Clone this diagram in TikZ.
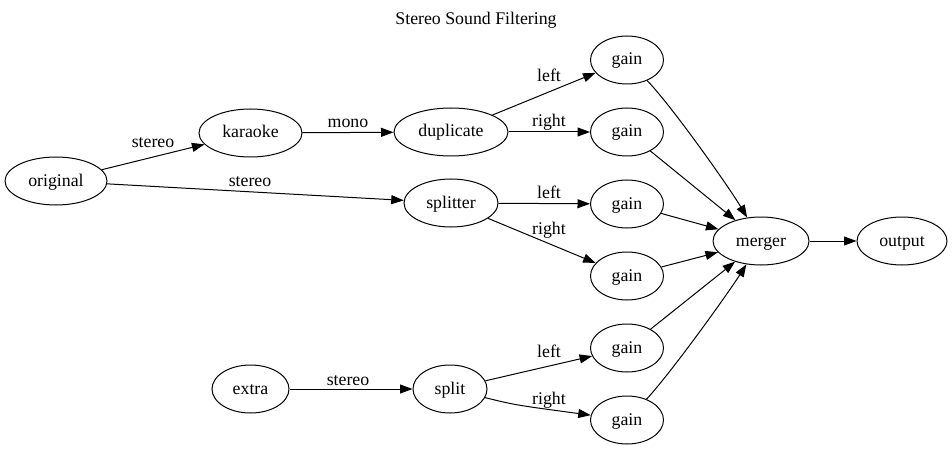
\documentclass[tikz,border=0pt]{standalone}
\usepackage{fontspec}
\setmainfont{Liberation Serif}
\usetikzlibrary{arrows.meta,shapes.geometric}
\tikzset{
	every node/.append style={font=\fontsize{17.8}{20}\selectfont},
	proc/.style = {
			ellipse,
			draw,
			line width = 1pt,
			inner sep = 0pt,
			minimum height = 48pt,
			text height = 13pt,
			text depth = 3pt,
		},
	lbl/.style = {anchor=base, inner sep=0pt},
	flow/.style = {-{Triangle[length=12.5pt,width=9pt]}, line width=1pt},
}

\begin{document}
\begin{tikzpicture}[x=1pt,y=-1pt]
        \useasboundingbox (0,0) rectangle (952,449);
        \node[lbl] at (476,25) (title) {Stereo Sound Filtering};
        \node[proc, minimum width=102pt] at (56,181) (orig) {original};
        \node[proc, minimum width=103pt] at (250.5,133) (kara) {karaoke};
        \node[proc, minimum width=114pt] at (451,132) (dup) {duplicate};
        \node[proc, minimum width=94pt] at (451,203) (splitter) {splitter};
        \node[proc, minimum width=77pt] at (250.5,389) (extra) {extra};
        \node[proc, minimum width=74pt] at (450,389) (split) {split};
        \node[proc, minimum width=73pt] at (627,60) (g1) {gain};
        \node[proc, minimum width=73pt] at (627,132) (g2) {gain};
        \node[proc, minimum width=73pt] at (627,204) (g3) {gain};
        \node[proc, minimum width=73pt] at (627,276) (g4) {gain};
        \node[proc, minimum width=73pt] at (627,348) (g5) {gain};
        \node[proc, minimum width=73pt] at (627,420) (g6) {gain};
        \node[proc, minimum width=96pt] at (761,241) (merger) {merger};
        \node[proc, minimum width=90pt] at (902,241) (out) {output};
        % edge labels
        \node[lbl] at (153,148) (l1) {stereo};
        \node[lbl] at (250,186) (l2) {stereo};
        \node[lbl] at (348,128) (l3) {mono};
        \node[lbl] at (549,82) (l4) {left};
        \node[lbl] at (549,127) (l5) {right};
        \node[lbl] at (549,198) (l6) {left};
        \node[lbl] at (549,234) (l7) {right};
        \node[lbl] at (348,385) (l8) {stereo};
        \node[lbl] at (549,357) (l9) {left};
        \node[lbl] at (549,404) (l10) {right};
        \draw[flow] (orig) -- (kara);
        \draw[flow] (orig) -- (splitter);
        \draw[flow] (kara) -- (dup);
        \draw[flow] (dup) -- (g1);
        \draw[flow] (dup) -- (g2);
        \draw[flow] (splitter) -- (g3);
        \draw[flow] (splitter) -- (g4);
        \draw[flow] (extra) -- (split);
        \draw[flow] (split) -- (g5);
        \draw[flow] (split) .. controls (515,405) .. (g6);
        \draw[flow] (g1) .. controls (671,105) and (729,187) .. (merger);
        \draw[flow] (g2) -- (merger);
        \draw[flow] (g3) -- (merger);
        \draw[flow] (g4) -- (merger);
        \draw[flow] (g5) -- (merger);
        \draw[flow] (g6) .. controls (671,373) and (729,292) .. (merger);
        \draw[flow] (merger) -- (out);
      \end{tikzpicture}
\end{document}
